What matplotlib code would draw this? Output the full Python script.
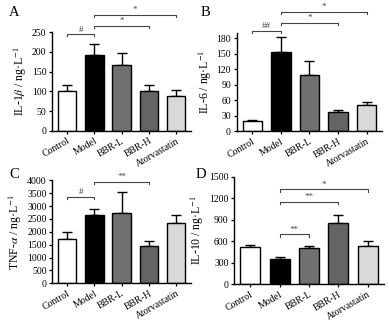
import matplotlib
matplotlib.use('Agg')
import matplotlib.pyplot as plt

plt.rcParams['font.family'] = ['Liberation Serif', 'DejaVu Serif']
plt.rcParams['mathtext.fontset'] = 'stix'

groups = ['Control', 'Model', 'BBR-L', 'BBR-H', 'Atorvastatin']
colors = ['#ffffff', '#000000', '#707070', '#646464', '#d9d9d9']

il1b_mean = [100, 193, 167, 100, 88]
il1b_err = [15, 27, 31, 15, 16]
il6_mean = [20, 153, 109, 37, 51]
il6_err = [2, 29, 27, 4, 5]
tnf_mean = [1720, 2670, 2735, 1460, 2360]
tnf_err = [255, 205, 800, 180, 310]
il10_mean = [517, 349, 505, 857, 531]
il10_err = [37, 33, 25, 107, 70]

# (from, to, label, height)
il1b_sig = [(0, 1, '#', 245), (1, 3, '*', 266), (1, 4, '*', 294)]
il6_sig = [(0, 1, '##', 194), (1, 3, '*', 210), (1, 4, '*', 231)]
tnf_sig = [(0, 1, '#', 3370), (1, 3, '**', 3950)]
il10_sig = [(1, 2, '**', 697), (1, 3, '**', 1152), (1, 4, '*', 1324)]


def draw_panel(ax, means, errs, sigs, ymax, step, ylabel):
    x = list(range(len(groups)))
    ax.bar(x, means, width=0.68, color=colors, edgecolor='black', linewidth=1.0, zorder=2)
    ax.errorbar(x, means, yerr=[[0] * len(errs), errs], fmt='none', ecolor='black',
                elinewidth=1.0, capsize=3.5, capthick=1.0, zorder=1)
    ax.set_xlim(-0.55, 4.55)
    ax.set_ylim(0, ymax)
    ax.set_yticks(range(0, int(ymax) + 1, step))
    ax.set_xticks(x)
    ax.set_xticklabels(groups, rotation=30, ha='right', rotation_mode='anchor')
    ax.spines['top'].set_visible(False)
    ax.spines['right'].set_visible(False)
    ax.spines['left'].set_linewidth(1.0)
    ax.spines['bottom'].set_linewidth(1.0)
    ax.tick_params(labelsize=7, length=2.5, width=0.9, pad=1.5)
    ax.set_ylabel(ylabel, fontsize=8.5, labelpad=2)
    drop = ymax * 0.022
    for a, b, lab, h in sigs:
        ax.plot([a, a, b, b], [h - drop, h, h, h - drop], color='#444444', lw=0.8, clip_on=False)
        ax.text((a + b) / 2, h + drop * 0.3, lab, ha='center', va='bottom', fontsize=6.5,
                color='#444444')


fig = plt.figure(figsize=(3.89, 3.22), dpi=100)
ax_a = fig.add_axes([0.134, 0.594, 0.357, 0.306])
ax_b = fig.add_axes([0.608, 0.593, 0.375, 0.305])
ax_c = fig.add_axes([0.134, 0.120, 0.357, 0.320])
ax_d = fig.add_axes([0.602, 0.117, 0.385, 0.334])

draw_panel(ax_a, il1b_mean, il1b_err, il1b_sig, 250, 50, r'IL-1$\it{\beta}$ / ng·L$^{-1}$')
draw_panel(ax_b, il6_mean, il6_err, il6_sig, 190, 30, r'IL-6 / ng·L$^{-1}$')
draw_panel(ax_c, tnf_mean, tnf_err, tnf_sig, 4000, 500, r'TNF-$\it{\alpha}$ / ng·L$^{-1}$')
draw_panel(ax_d, il10_mean, il10_err, il10_sig, 1500, 300, r'IL-10 / ng·L$^{-1}$')

for letter, px, py in [('A', 9, 13), ('B', 201, 13), ('C', 9, 174), ('D', 196, 174)]:
    fig.text(px / 389, 1 - py / 322, letter, fontsize=10.5, ha='left', va='center')

fig.savefig('out.png', dpi=100)
